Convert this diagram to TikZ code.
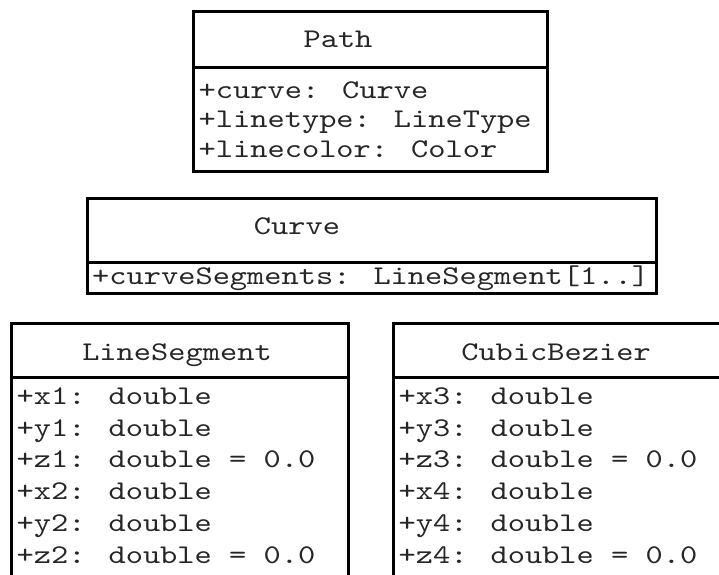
\documentclass[tikz,border=0pt]{standalone}
\usepackage{fontspec}
\newfontfamily\umlfont{lmmono10-regular}[Extension=.otf, FakeStretch=1.215]
\begin{document}
\begin{tikzpicture}[x=1pt,y=-1pt,
  frame/.style={draw=black, line width=2.7pt, inner sep=0pt, anchor=north west},
  txt/.style={inner sep=0pt, text=black!85, font=\umlfont\fontsize{27}{31}\selectfont},
  attr/.style={txt, anchor=base west},
  ttl/.style={txt, anchor=base}]
\useasboundingbox (0,0) rectangle (719,574);
% Path
\node[frame, minimum width=354pt, minimum height=56pt] (pathT) at (192,10) {};
\node[frame, minimum width=354pt, minimum height=104pt] (pathB) at (192,66) {};
\node[ttl] (pathN) at (338,47) {Path};
\node[attr] (pa1) at (198.5,98) {+curve: Curve};
\node[attr] (pa2) at (198.5,127.5) {+linetype: LineType};
\node[attr] (pa3) at (198.5,157) {+linecolor: Color};
% Curve
\node[frame, minimum width=569pt, minimum height=64pt] (curveT) at (86,197) {};
\node[frame, minimum width=569pt, minimum height=31pt] (curveB) at (86,261) {};
\node[ttl] (curveN) at (297,234) {Curve};
\node[attr] (ca1) at (92,284) {+curveSegments: LineSegment[1..]};
% LineSegment
\node[frame, minimum width=337pt, minimum height=54pt] (lsT) at (10,322) {};
\node[frame, minimum width=337pt, minimum height=215pt] (lsB) at (10,376) {};
\node[ttl] (lsN) at (177,360) {LineSegment};
\node[attr] (la1) at (16.5,404) {+x1: double};
\node[attr] (la2) at (16.5,436) {+y1: double};
\node[attr] (la3) at (16.5,467) {+z1: double = 0.0};
\node[attr] (la4) at (16.5,499) {+x2: double};
\node[attr] (la5) at (16.5,531) {+y2: double};
\node[attr] (la6) at (16.5,563) {+z2: double = 0.0};
% CubicBezier
\node[frame, minimum width=332pt, minimum height=54pt] (cbT) at (392,322) {};
\node[frame, minimum width=332pt, minimum height=215pt] (cbB) at (392,376) {};
\node[ttl] (cbN) at (556,360) {CubicBezier};
\node[attr] (ba1) at (398.5,404) {+x3: double};
\node[attr] (ba2) at (398.5,436) {+y3: double};
\node[attr] (ba3) at (398.5,467) {+z3: double = 0.0};
\node[attr] (ba4) at (398.5,499) {+x4: double};
\node[attr] (ba5) at (398.5,531) {+y4: double};
\node[attr] (ba6) at (398.5,563) {+z4: double = 0.0};
\end{tikzpicture}
\end{document}
